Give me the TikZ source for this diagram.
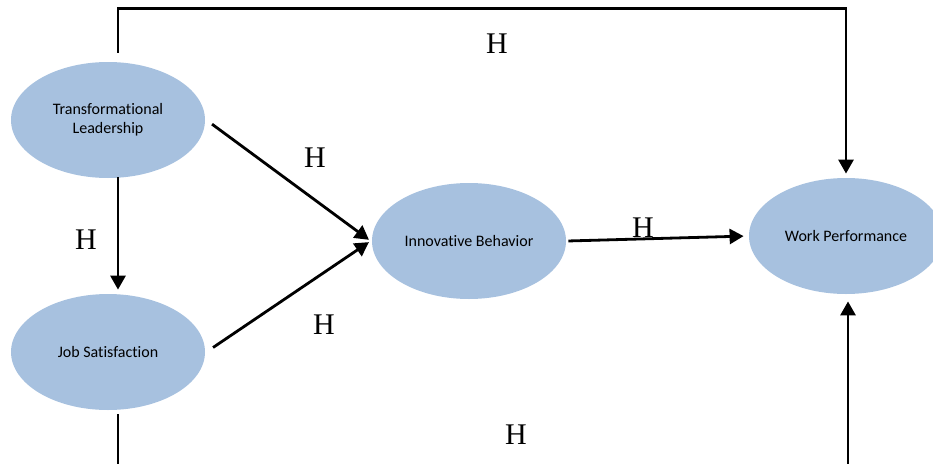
\documentclass[tikz,border=0pt]{standalone}
\usepackage{fontspec}
\setmainfont{Liberation Serif}
\setsansfont{Carlito}[Ligatures=NoCommon]
\usepackage{tikz}
\usetikzlibrary{calc, arrows.meta, shapes.geometric}
\definecolor{varblue}{RGB}{167,193,223}

\begin{document}
\begin{tikzpicture}[x=1pt,y=-1pt,line width=2.8pt,>={Triangle[length=14pt,width=15pt]},
  var/.style={ellipse,fill=varblue,minimum width=194pt,minimum height=116pt,inner sep=0pt,align=center,font=\sffamily\fontsize{16}{19}\selectfont},
  hyp/.style={font=\fontsize{30}{30}\selectfont}]
\useasboundingbox (0,0) rectangle (933,463);
\clip (0,0) rectangle (933,463);
\node [var] (TL) at (108,120) {Transformational\\Leadership};
\node [var] (JS) at (108,352) {Job Satisfaction};
\node [var] (IB) at (469,241) {Innovative Behavior};
\node [var] (WP) at (846,236) {Work Performance};
\draw [->] ($ (TL.north) + (10,-8) $) -- ++(0,-44) -| ($ (WP.north) + (0,-3) $);
\draw [->] ($ (TL.south) + (10,-2) $) -- ($ (JS.north) + (10,-3) $);
\draw [->,shorten <=7pt,shorten >=2pt] (TL.east) -- (IB.west);
\draw [->,shorten <=8pt,shorten >=2pt] (JS.east) -- (IB.west);
\draw [->,shorten <=1pt,shorten >=4pt] (IB.east) -- (WP.west);
\draw [->] ($ (JS.south) + (10,3) $) -- ++(0,90) -| ($ (WP.south) + (2,6) $);
\node [hyp] (h1) at (497,44)  {H};
\node [hyp] (h2) at (315,158) {H};
\node [hyp] (h3) at (86,240)  {H};
\node [hyp] (h4) at (324,325) {H};
\node [hyp] (h5) at (643,228) {H};
\node [hyp] (h6) at (516,435) {H};
\end{tikzpicture}
\end{document}
